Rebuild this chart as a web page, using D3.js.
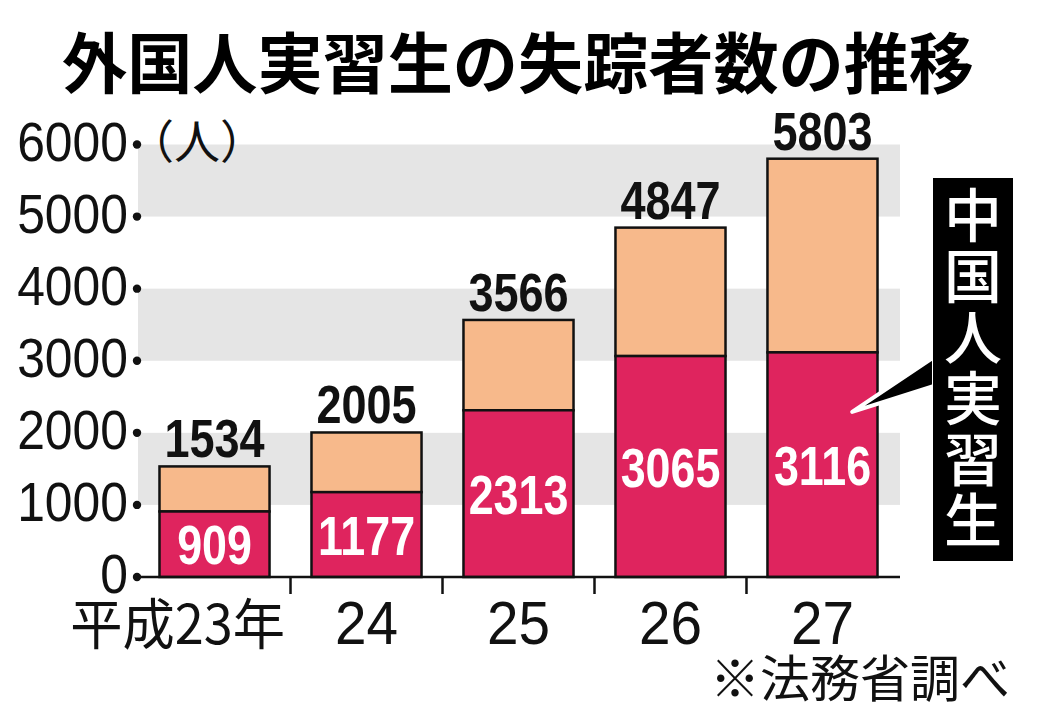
<!DOCTYPE html>
<html><head><meta charset="utf-8">
<script src="https://cdn.jsdelivr.net/npm/d3@7"></script>
<style>html,body{margin:0;padding:0;background:#fff;}svg{display:block;}</style>
</head><body>
<script>
const categories = ["平成23年", "24", "25", "26", "27"];
const chinese = [909, 1177, 2313, 3065, 3116];
const totals = [1534, 2005, 3566, 4847, 5803];
const yTicks = [0, 1000, 2000, 3000, 4000, 5000, 6000];
const title = "外国人実習生の失踪者数の推移";
const unitLabel = "（人）";
const calloutText = "中国人実習生";
const sourceNote = "※法務省調べ";

const W = 1049, H = 712;
const RED = "#df245e", PEACH = "#f7b98b", BAND = "#e5e5e5";
const svg = d3.select("body").append("svg").attr("width", W).attr("height", H);

const x = d3.scaleBand().domain(categories).range([137, 900]).paddingInner(0.276).paddingOuter(0.148);
const y = d3.scaleLinear().domain([0, 6000]).range([577, 144.5]);

// grey bands
const bands = [[1000, 2000], [3000, 4000], [5000, 6000]];
svg.append("g").selectAll("rect").data(bands).join("rect")
  .attr("x", 138).attr("width", 762)
  .attr("y", d => y(d[1])).attr("height", d => y(d[0]) - y(d[1]))
  .attr("fill", BAND);

// title
svg.append("text").attr("x", 518).attr("y", 88).attr("text-anchor", "middle")
  .attr("font-family", "'Noto Sans CJK JP'").attr("font-weight", 700)
  .attr("font-size", 66).attr("textLength", 912).attr("lengthAdjust", "spacingAndGlyphs")
  .text(title);

function scaledText(g, tx, ty, sx, txt, opts) {
  const gg = g.append("g").attr("transform", `translate(${tx},${ty}) scale(${sx},1)`);
  const t = gg.append("text").text(txt);
  for (const k in opts) t.attr(k, opts[k]);
  return t;
}

// y tick labels and dots
const yg = svg.append("g");
yTicks.forEach(v => {
  scaledText(yg, 128, y(v) + 16, 0.89, String(v), {
    "text-anchor": "end", "font-family": "'Liberation Sans', Arial", "font-size": 56, fill: "#111"
  });
  yg.append("circle").attr("cx", 137).attr("cy", y(v)).attr("r", 4.2).attr("fill", "#111");
});
svg.append("text").attr("x", 128).attr("y", 158)
  .attr("font-family", "'Noto Sans CJK JP'").attr("font-size", 46).attr("fill", "#111")
  .text(unitLabel);

// bars
const bars = svg.append("g");
categories.forEach((c, i) => {
  const x0 = x(c), bw = x.bandwidth();
  bars.append("rect").attr("x", x0).attr("width", bw)
    .attr("y", y(totals[i])).attr("height", y(chinese[i]) - y(totals[i]))
    .attr("fill", PEACH).attr("stroke", "#111").attr("stroke-width", 2.5);
  bars.append("rect").attr("x", x0).attr("width", bw)
    .attr("y", y(chinese[i])).attr("height", y(0) - y(chinese[i]))
    .attr("fill", RED).attr("stroke", "#111").attr("stroke-width", 2.5);
  scaledText(bars, x0 + bw / 2, y(totals[i]) - 9, 0.85, String(totals[i]), {
    "text-anchor": "middle", "font-family": "'Liberation Sans', Arial", "font-weight": 700,
    "font-size": 53, fill: "#111"
  });
  const mid = (y(chinese[i]) + y(0)) / 2;
  scaledText(bars, x0 + bw / 2, mid + 20, 0.8, String(chinese[i]), {
    "text-anchor": "middle", "font-family": "'Liberation Sans', Arial", "font-weight": 700,
    "font-size": 56, fill: "#fff"
  });
});

// x axis line and ticks
const ax = svg.append("g");
ax.append("line").attr("x1", 137).attr("x2", 900).attr("y1", y(0)).attr("y2", y(0))
  .attr("stroke", "#111").attr("stroke-width", 2.5);
const step = x.step(), gap = step * x.paddingInner();
categories.slice(0, -1).forEach(c => {
  const tx = x(c) + x.bandwidth() + gap / 2;
  ax.append("line").attr("x1", tx).attr("x2", tx).attr("y1", y(0)).attr("y2", y(0) + 17)
    .attr("stroke", "#111").attr("stroke-width", 2.5);
});
categories.forEach((c, i) => {
  if (i === 0) {
    scaledText(ax, 285, 644, 0.95, c, {
      "text-anchor": "end", "font-family": "'Noto Sans CJK JP'", "font-size": 55, fill: "#111"
    });
  } else {
    scaledText(ax, x(c) + x.bandwidth() / 2, 644, 0.93, c, {
      "text-anchor": "middle", "font-family": "'Liberation Sans', Arial", "font-size": 61, fill: "#111"
    });
  }
});

// callout
const last = categories[categories.length - 1];
const tipX = x(last) + x.bandwidth() * 0.77, tipY = y(2290);
const cg = svg.append("g");
cg.append("path")
  .attr("d", `M${tipX},${tipY} L934,357 L934,386 Z`)
  .attr("fill", "#000").attr("stroke", "#fff").attr("stroke-width", 4).attr("stroke-linejoin", "round");
cg.append("rect").attr("x", 933).attr("y", 178).attr("width", 80).attr("height", 383).attr("fill", "#000");
cg.append("text").attr("x", 973).attr("y", 186)
  .attr("writing-mode", "vertical-rl").attr("style", "writing-mode:vertical-rl;text-orientation:upright")
  .attr("font-family", "'Noto Sans CJK JP'").attr("font-weight", 500)
  .attr("font-size", 58).attr("letter-spacing", 3).attr("fill", "#fff").text(calloutText);

// source
svg.append("text").attr("x", 1010).attr("y", 697).attr("text-anchor", "end")
  .attr("font-family", "'Noto Sans CJK JP'").attr("font-size", 50).attr("fill", "#111")
  .text(sourceNote);
</script>
</body></html>
